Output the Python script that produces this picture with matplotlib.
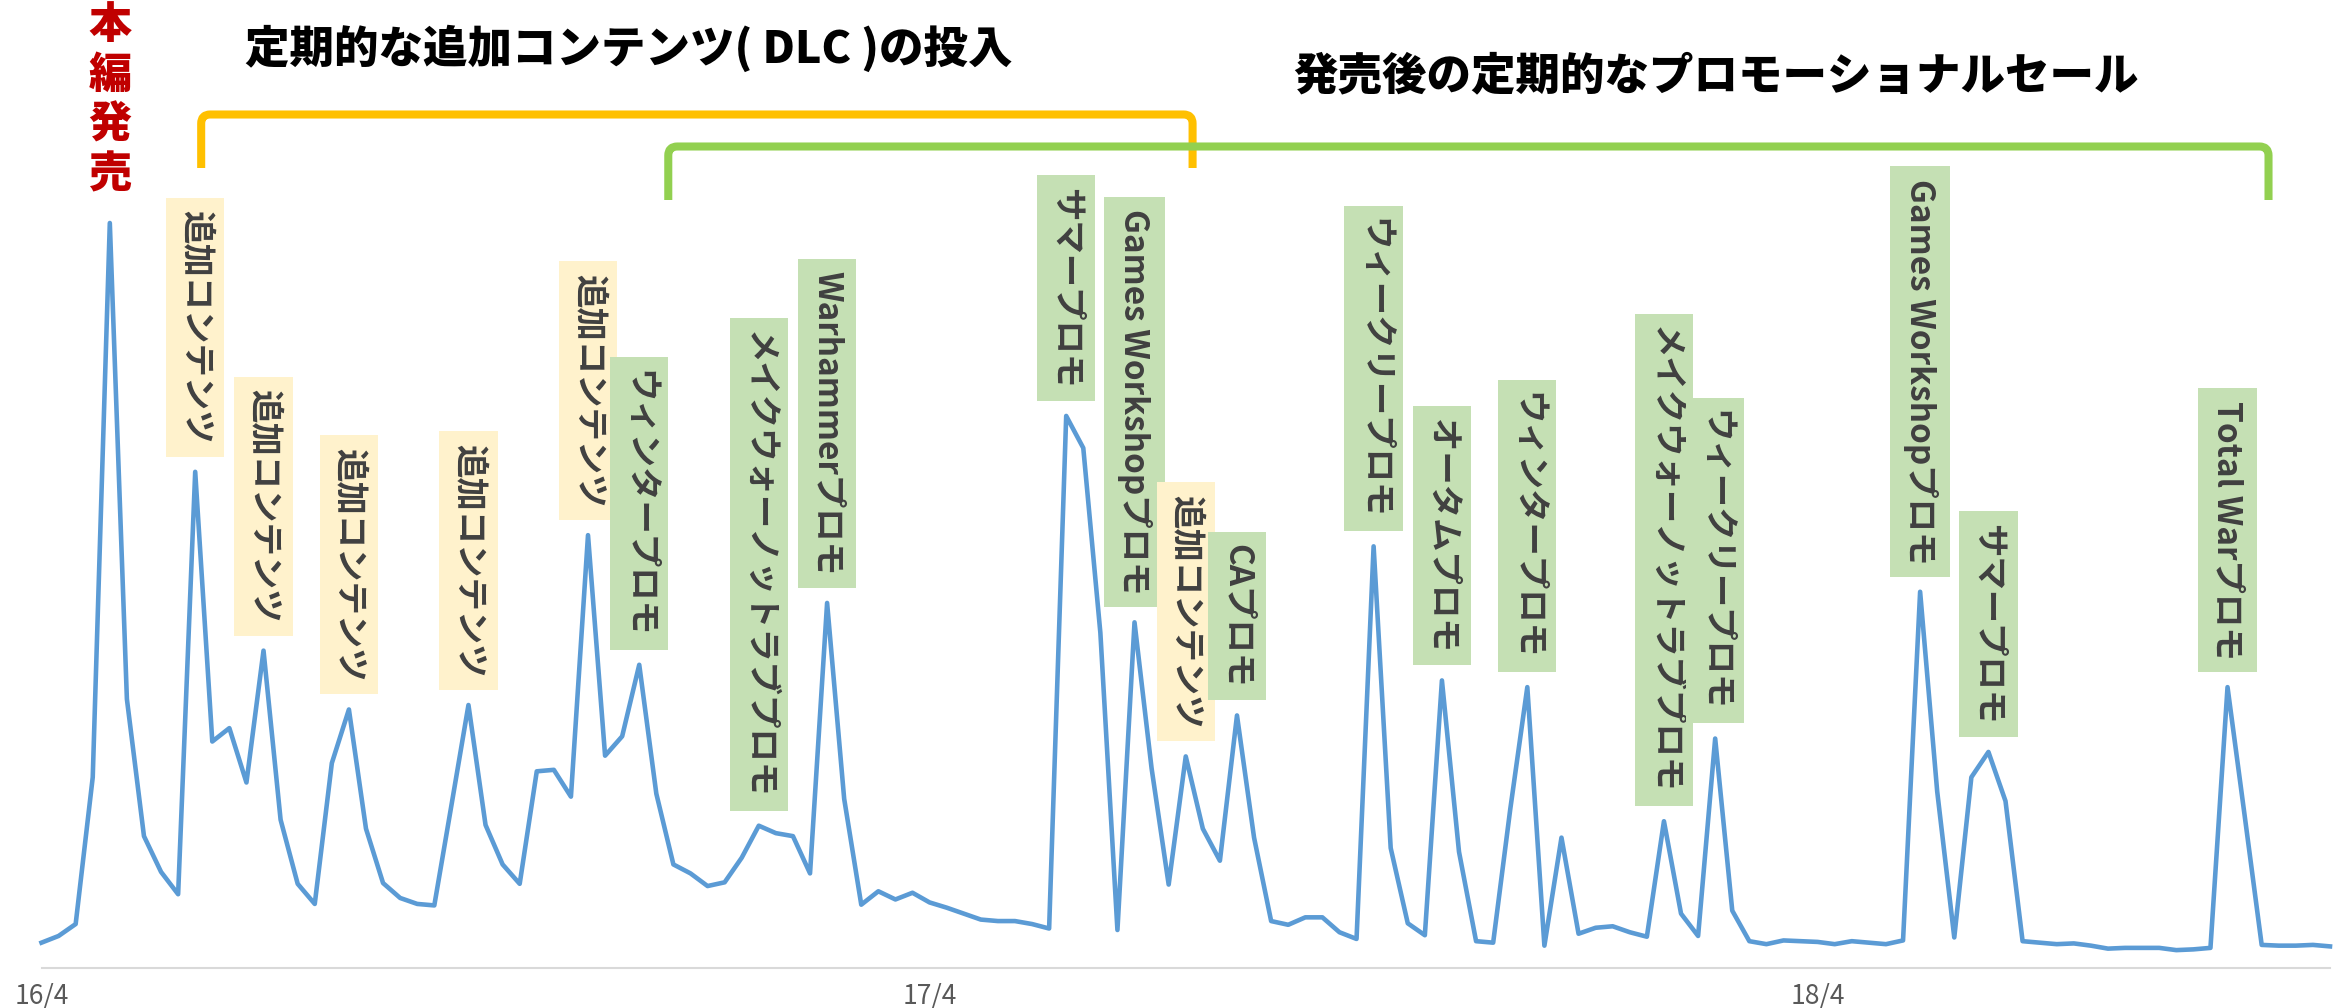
import matplotlib
matplotlib.use("Agg")
import matplotlib.pyplot as plt
from matplotlib.path import Path
from matplotlib.patches import PathPatch
from matplotlib.transforms import IdentityTransform

plt.rcParams['font.family'] = ['Noto Sans CJK JP', 'DejaVu Sans']

# Weekly index of player activity (peak week = 100)
values = [
    3.4, 4.3, 5.9, 25.6, 100.0, 36.1, 17.7, 12.9, 9.9, 66.6,
    30.4, 32.2, 24.9, 42.6, 19.9, 11.3, 8.6, 27.5, 34.7, 18.7,
    11.4, 9.4, 8.6, 8.4, 21.8, 35.3, 19.2, 13.9, 11.3, 26.4,
    26.6, 23.0, 58.1, 28.5, 31.1, 40.7, 23.4, 13.9, 12.7, 11.0,
    11.5, 14.8, 19.1, 18.1, 17.7, 12.7, 49.0, 22.7, 8.5, 10.3,
    9.2, 10.1, 8.8, 8.1, 7.3, 6.5, 6.3, 6.3, 5.9, 5.3,
    74.1, 69.8, 45.0, 5.1, 46.4, 26.8, 11.2, 28.4, 18.7, 14.4,
    33.9, 17.5, 6.3, 5.8, 6.8, 6.8, 4.8, 3.9, 56.6, 16.1,
    6.0, 4.4, 38.6, 15.6, 3.6, 3.4, 21.3, 37.7, 3.0, 17.5,
    4.6, 5.4, 5.6, 4.8, 4.2, 19.7, 7.3, 4.3, 30.8, 7.7,
    3.6, 3.2, 3.7, 3.6, 3.5, 3.2, 3.6, 3.4, 3.2, 3.7,
    50.5, 23.7, 4.1, 25.6, 29.0, 22.4, 3.6, 3.4, 3.2, 3.3,
    3.0, 2.6, 2.7, 2.7, 2.7, 2.4, 2.5, 2.7, 37.7, 20.5,
    3.1, 3.0, 3.0, 3.1, 2.9,
]

tick_positions = [0, 52, 104]
tick_labels = ['16/4', '17/4', '18/4']

release_index = 4
release_label = '本編発売'

event_index = [9, 13, 18, 25, 32, 35, 42, 46, 60, 64,
               67, 70, 78, 82, 87, 95, 98, 110, 114, 128]
event_text = [
    '追加コンテンツ', '追加コンテンツ', '追加コンテンツ', '追加コンテンツ',
    '追加コンテンツ', 'ウィンタープロモ', 'メイクウォーノットラブプロモ',
    'Warhammerプロモ', 'サマープロモ', 'Games Workshopプロモ',
    '追加コンテンツ', 'CAプロモ', 'ウィークリープロモ', 'オータムプロモ',
    'ウィンタープロモ', 'メイクウォーノットラブプロモ', 'ウィークリープロモ',
    'Games Workshopプロモ', 'サマープロモ', 'Total Warプロモ',
]
event_kind = ['dlc', 'dlc', 'dlc', 'dlc', 'dlc', 'sale', 'sale', 'sale',
              'sale', 'sale', 'dlc', 'sale', 'sale', 'sale', 'sale', 'sale',
              'sale', 'sale', 'sale', 'sale']

title_dlc = '定期的な追加コンテンツ( DLC )の投入'
title_sale = '発売後の定期的なプロモーショナルセール'
dlc_span = (9.35, 67.4)
sale_span = (36.7, 130.4)

box_colors = {'dlc': '#FFF2CC', 'sale': '#C5E0B4'}

W, H = 2344, 1008
fig = plt.figure(figsize=(W / 100, H / 100), dpi=100)
ax = fig.add_axes([41.5 / W, 40 / H, 2288.5 / W, 968 / H])
ax.set_xlim(0, len(values) - 1)
ax.set_ylim(0, 968 / 7.45)

ax.plot(range(len(values)), values, color='#5B9BD5', lw=3.3,
        solid_joinstyle='round', clip_on=False, zorder=2)

for side in ('top', 'left', 'right'):
    ax.spines[side].set_visible(False)
ax.spines['bottom'].set_color('#D9D9D9')
ax.spines['bottom'].set_linewidth(1.5)
ax.set_yticks([])
ax.set_xticks(tick_positions, tick_labels)
ax.tick_params(axis='x', length=0, pad=11, labelsize=19, labelcolor='#595959')

# Event labels sitting just above each spike
for i, txt, kind in zip(event_index, event_text, event_kind):
    ax.annotate(txt, xy=(i, values[i]), xytext=(0, 20), textcoords='offset points',
                rotation=-90, ha='center', va='bottom', fontsize=24,
                fontweight='bold', color='#404040', annotation_clip=False,
                bbox=dict(boxstyle='square,pad=0.38', fc=box_colors[kind], ec='none'),
                zorder=3)

# Release marker: characters stacked vertically above the launch spike
x_release = ax.transData.transform((release_index, 0))[0]
for k, ch in enumerate(release_label):
    fig.text(x_release / W, 1 - (25 + 50 * k) / H, ch, ha='center', va='center',
             fontsize=31, fontweight='heavy', color='#C00000')


def bracket(span, top, bottom, color):
    x0 = ax.transData.transform((span[0], 0))[0]
    x1 = ax.transData.transform((span[1], 0))[0]
    yt, yb = H - top, H - bottom
    r = 9
    verts = [(x0, yb), (x0, yt - r), (x0, yt), (x0 + r, yt),
             (x1 - r, yt), (x1, yt), (x1, yt - r), (x1, yb)]
    codes = [Path.MOVETO, Path.LINETO, Path.CURVE3, Path.CURVE3,
             Path.LINETO, Path.CURVE3, Path.CURVE3, Path.LINETO]
    fig.add_artist(PathPatch(Path(verts, codes), transform=IdentityTransform(),
                             fill=False, ec=color, lw=5.8, capstyle='butt',
                             joinstyle='round'))


bracket(dlc_span, 114.5, 168, '#FFC000')
bracket(sale_span, 146.5, 200, '#92D050')

fig.text(629 / W, 1 - 48 / H, title_dlc, ha='center', va='center',
         fontsize=32, fontweight='heavy', color='black')
fig.text(1716 / W, 1 - 76 / H, title_sale, ha='center', va='center',
         fontsize=32, fontweight='heavy', color='black')

fig.savefig('out.png', dpi=100, facecolor='white')
